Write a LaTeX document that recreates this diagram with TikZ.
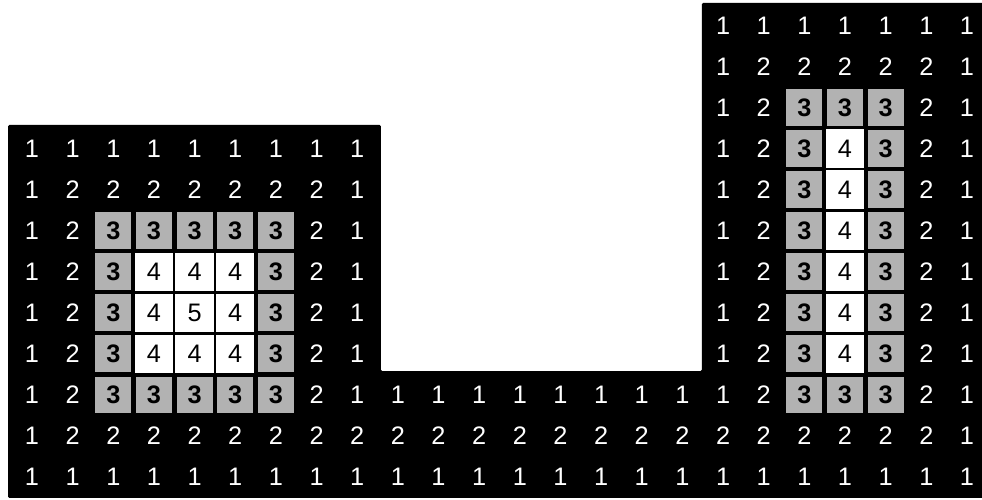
\documentclass[tikz,border=0pt]{standalone}
\usepackage{fontspec}
\setmainfont{Liberation Sans}

\begin{document}
\begin{tikzpicture}[
    x=1.016cm, y=-1.026cm,
    every node/.style={font=\fontsize{18}{20}\selectfont, inner sep=0pt},
    lownum/.style={text=white},
    graybox/.style={fill=black!30, minimum width=0.9cm, minimum height=0.92cm, font=\fontsize{18}{20}\selectfont\bfseries},
    whitebox/.style={fill=white, minimum size=0.96cm}
]
    \useasboundingbox (-0.787,-0.621) rectangle (23.37,11.559);

    % Black region
    \fill[black, rounded corners=1pt] (-0.59,2.42) -- (8.585,2.42) -- (8.585,8.42) -- (16.48,8.42)
        -- (16.48,-0.55) -- (23.5,-0.55) -- (23.5,11.51) -- (-0.59,11.51) -- cycle;

    % Distance values, row by row (0 = outside)
    \foreach \r/\vals in {
        0/{0,0,0,0,0,0,0,0,0,0,0,0,0,0,0,0,0,1,1,1,1,1,1,1},
        1/{0,0,0,0,0,0,0,0,0,0,0,0,0,0,0,0,0,1,2,2,2,2,2,1},
        2/{0,0,0,0,0,0,0,0,0,0,0,0,0,0,0,0,0,1,2,3,3,3,2,1},
        3/{1,1,1,1,1,1,1,1,1,0,0,0,0,0,0,0,0,1,2,3,4,3,2,1},
        4/{1,2,2,2,2,2,2,2,1,0,0,0,0,0,0,0,0,1,2,3,4,3,2,1},
        5/{1,2,3,3,3,3,3,2,1,0,0,0,0,0,0,0,0,1,2,3,4,3,2,1},
        6/{1,2,3,4,4,4,3,2,1,0,0,0,0,0,0,0,0,1,2,3,4,3,2,1},
        7/{1,2,3,4,5,4,3,2,1,0,0,0,0,0,0,0,0,1,2,3,4,3,2,1},
        8/{1,2,3,4,4,4,3,2,1,0,0,0,0,0,0,0,0,1,2,3,4,3,2,1},
        9/{1,2,3,3,3,3,3,2,1,1,1,1,1,1,1,1,1,1,2,3,3,3,2,1},
        10/{1,2,2,2,2,2,2,2,2,2,2,2,2,2,2,2,2,2,2,2,2,2,2,1},
        11/{1,1,1,1,1,1,1,1,1,1,1,1,1,1,1,1,1,1,1,1,1,1,1,1}}
      \foreach \v [count=\c from 0] in \vals {
        \ifnum\v=0 \else
          \ifnum\v<3 \node[lownum] (n\r-\c) at (\c,\r) {\v};
          \else\ifnum\v=3 \node[graybox] (n\r-\c) at (\c,\r) {\v};
          \else \node[whitebox] (n\r-\c) at (\c,\r) {\v};
          \fi\fi
        \fi
      };
\end{tikzpicture}
\end{document}
